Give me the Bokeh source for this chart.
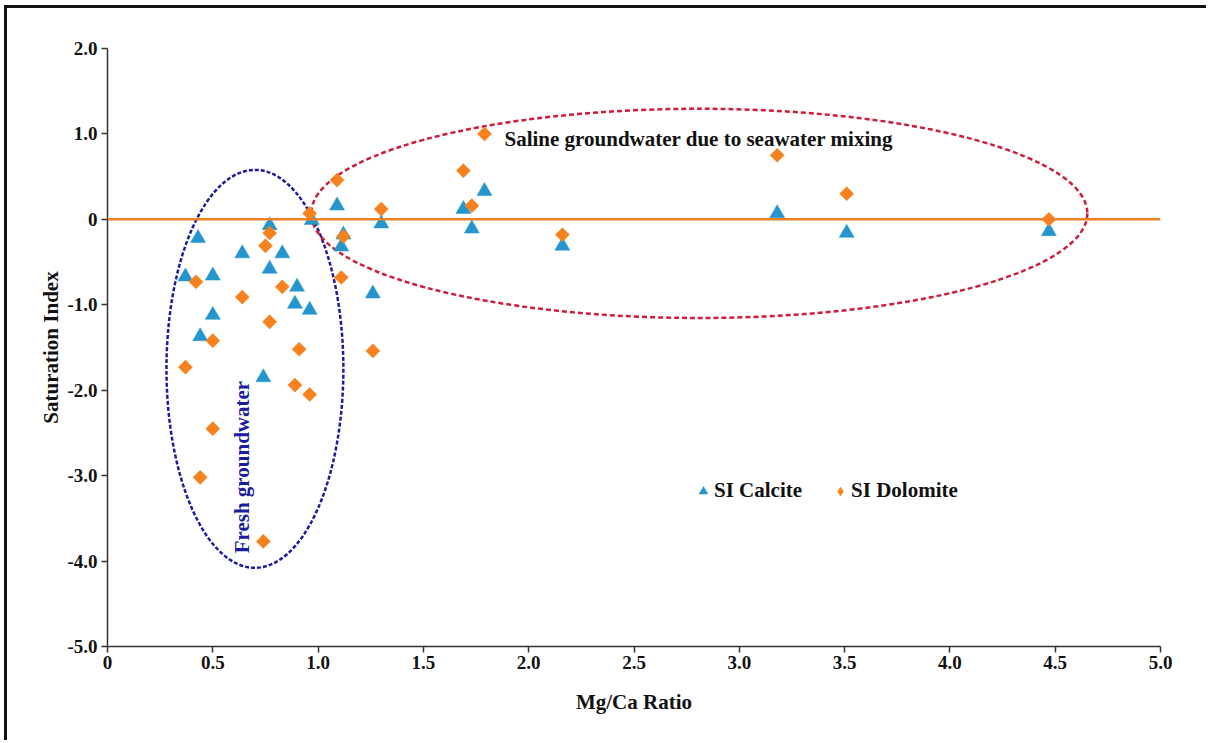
import math
from bokeh.plotting import figure
from bokeh.models import Range1d, FixedTicker, Legend, LegendItem, Span, Label
from bokeh.embed import file_html
from bokeh.resources import INLINE

# ---- data ----
mgca_calcite = [0.37, 0.43, 0.44, 0.50, 0.50, 0.64, 0.74, 0.77, 0.77, 0.83, 0.89, 0.90, 0.96,
                0.97, 1.09, 1.11, 1.12, 1.26, 1.30, 1.69, 1.73, 1.79, 2.16, 3.18, 3.51, 4.47]
si_calcite = [-0.67, -0.22, -1.37, -0.66, -1.12, -0.40, -1.85, -0.07, -0.58, -0.40, -0.99, -0.79, -1.06,
              -0.01, 0.16, -0.32, -0.18, -0.87, -0.05, 0.12, -0.11, 0.33, -0.31, 0.07, -0.16, -0.14]

mgca_dolomite = [0.37, 0.42, 0.44, 0.50, 0.50, 0.64, 0.74, 0.75, 0.77, 0.77, 0.83, 0.89, 0.91, 0.96,
                 0.96, 1.09, 1.11, 1.12, 1.26, 1.30, 1.69, 1.73, 1.79, 2.16, 3.18, 3.51, 4.47]
si_dolomite = [-1.73, -0.73, -3.02, -2.45, -1.42, -0.91, -3.77, -0.31, -0.16, -1.20, -0.79, -1.94, -1.52, -2.05,
               0.07, 0.46, -0.68, -0.20, -1.54, 0.12, 0.57, 0.16, 1.00, -0.18, 0.75, 0.30, 0.00]

x_ticks = [0, 0.5, 1.0, 1.5, 2.0, 2.5, 3.0, 3.5, 4.0, 4.5, 5.0]
x_tick_labels = ["0", "0.5", "1.0", "1.5", "2.0", "2.5", "3.0", "3.5", "4.0", "4.5", "5.0"]
y_ticks = [2, 1, 0, -1, -2, -3, -4, -5]
y_tick_labels = ["2.0", "1.0", "0", "-1.0", "-2.0", "-3.0", "-4.0", "-5.0"]

FONT = "Liberation Serif"
BLUE_MK = "#2596cc"
ORANGE = "#f5821f"
LINE_OR = "#f07f22"
DARK_BLUE = "#1c1c9e"
RED = "#cc1d3a"
TXT = "#111111"

p = figure(width=1202, height=735, output_backend="svg", toolbar_location=None,
           x_range=Range1d(0, 5), y_range=Range1d(-5, 2),
           min_border_left=100, min_border_right=49, min_border_top=40, min_border_bottom=97)
p.styles = {"border-left": "3px solid #111", "border-top": "3px solid #111",
            "margin-left": "4px", "margin-top": "5px"}
p.outline_line_color = None
p.grid.visible = False
p.background_fill_color = "white"
p.border_fill_color = "white"

for ax in (p.xaxis[0], p.yaxis[0]):
    ax.axis_line_color = "#333333"
    ax.axis_line_width = 1.5
    ax.major_tick_line_color = "#333333"
    ax.major_tick_line_width = 1.5
    ax.major_tick_out = 6
    ax.major_tick_in = 0
    ax.minor_tick_line_color = None
    ax.major_label_text_font = FONT
    ax.major_label_text_font_style = "bold"
    ax.major_label_text_font_size = "19px"
    ax.major_label_text_color = TXT
    ax.axis_label_text_font = FONT
    ax.axis_label_text_font_style = "bold"
    ax.axis_label_text_font_size = "21px"
    ax.axis_label_text_color = TXT

p.xaxis.ticker = FixedTicker(ticks=x_ticks)
p.xaxis.major_label_overrides = {t: l for t, l in zip(x_ticks, x_tick_labels)}
p.yaxis.ticker = FixedTicker(ticks=y_ticks)
p.yaxis.major_label_overrides = {t: l for t, l in zip(y_ticks, y_tick_labels)}
p.xaxis.axis_label = "Mg/Ca Ratio"
p.yaxis.axis_label = "Saturation Index"
p.xaxis.major_label_standoff = 3
p.yaxis.major_label_standoff = 4
p.xaxis.axis_label_standoff = 18
p.yaxis.axis_label_standoff = 1

# zero line
p.add_layout(Span(location=0, dimension="width", line_color=LINE_OR, line_width=2.5))

# ellipses
p.ellipse(x=0.70, y=-1.75, width=0.84, height=4.66, fill_color=None,
          line_color=DARK_BLUE, line_width=2.5, line_dash="4 2")
p.ellipse(x=2.81, y=0.07, width=3.685, height=2.45, fill_color=None,
          line_color=RED, line_width=2.5, line_dash="5 3")

r_cal = p.scatter(mgca_calcite, si_calcite, marker="triangle", size=15,
                  fill_color=BLUE_MK, line_color=BLUE_MK, line_width=0.5)
r_dol = p.scatter(mgca_dolomite, si_dolomite, marker="square", angle=math.pi / 4, size=10,
                  fill_color=ORANGE, line_color=ORANGE, line_width=0.5)
# hidden key renderer so that the legend shows a diamond swatch for dolomite
r_dol_key = p.scatter(x=mgca_dolomite[:1], y=si_dolomite[:1], marker="diamond", size=12,
                      fill_color=ORANGE, line_color=ORANGE, line_width=0.5, visible=False)

p.add_layout(Label(x=1.885, y=0.94, text="Saline groundwater due to seawater mixing",
                   text_font=FONT, text_font_style="bold", text_font_size="21px",
                   text_color=TXT, text_baseline="middle", text_align="left"))
p.add_layout(Label(x=0.639, y=-2.90, text="Fresh groundwater", angle=math.pi / 2,
                   text_font=FONT, text_font_style="bold", text_font_size="21px",
                   text_color=DARK_BLUE, text_baseline="middle", text_align="center"))

legend = Legend(items=[LegendItem(label="SI Calcite", renderers=[r_cal]),
                       LegendItem(label="SI Dolomite", renderers=[r_dol_key])],
                orientation="horizontal", location=(585, 143), click_policy="none",
                glyph_width=22, glyph_height=22, label_standoff=0, spacing=27,
                padding=0, margin=0, border_line_color=None, background_fill_alpha=0,
                label_text_font=FONT, label_text_font_style="bold",
                label_text_font_size="21px", label_text_color=TXT)
p.add_layout(legend)

open("out.html", "w").write(file_html(p, INLINE))
